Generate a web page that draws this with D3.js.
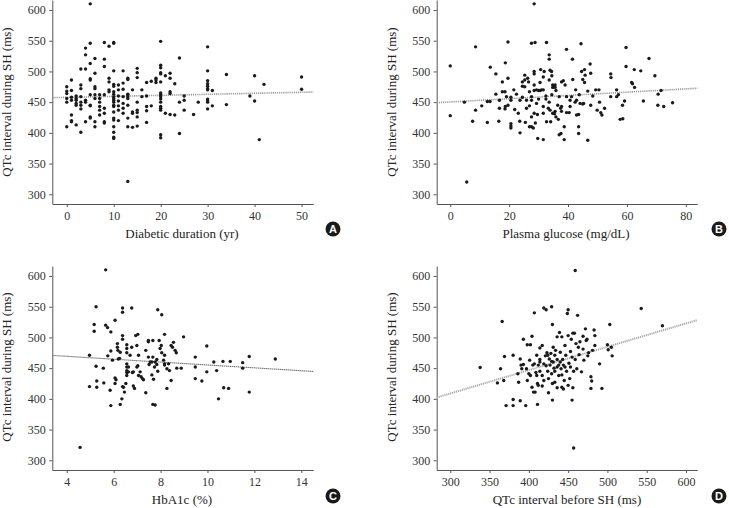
<!DOCTYPE html>
<html><head><meta charset="utf-8">
<script src="https://cdn.jsdelivr.net/npm/d3@7"></script>
<style>
html,body{margin:0;padding:0;background:#fff;}
svg{display:block;}
.tick text{font-family:"Liberation Serif","Times New Roman",serif;font-size:12px;fill:#333;}
.domain,.tick line{stroke:#555;}
.title{font-family:"Liberation Serif","Times New Roman",serif;font-size:13px;fill:#222;}
.badge{font-family:"Liberation Sans",Arial,sans-serif;font-size:11px;font-weight:bold;fill:#fff;}
</style></head><body>
<svg id="c" width="729" height="508"></svg>
<script>
// ---------- data ----------
const yTicks = [300, 350, 400, 450, 500, 550, 600];
const durationTicks = [0, 10, 20, 30, 40, 50];
const glucoseTicks = [0, 20, 40, 60, 80];
const hba1cTicks = [4, 6, 8, 10, 12, 14];
const qtcBeforeTicks = [300, 350, 400, 450, 500, 550, 600];

// Panel A: diabetic duration (yr) -> QTc during SH (ms), grouped by duration
const durationGroups = [
  [0, [475, 468, 464, 456, 450, 410]],
  [1, [486, 469, 458, 453, 429, 420, 418]],
  [2, [460, 456, 453, 448, 445, 413]],
  [3, [504, 478, 472, 459, 450, 445, 439, 401]],
  [4, [538, 527, 504, 453, 450, 418]],
  [5, [610, 546, 513, 488, 486, 462, 445, 444, 426, 424]],
  [6, [521, 497, 475, 472, 462, 456, 418, 410]],
  [7, [462, 456, 450, 443, 437, 429]],
  [8, [547, 520, 508, 462, 440, 432, 418, 416]],
  [9, [541, 489, 483, 470, 467]],
  [10, [547, 546, 501, 479, 476, 467, 463, 459, 456, 453, 450, 445, 443, 434, 424, 421, 410, 401, 393, 391]],
  [11, [478, 470, 460, 452, 444, 437, 420]],
  [12, [501, 481, 471, 459, 448, 440, 432]],
  [13, [489, 487, 463, 462, 459, 456, 445, 424, 410, 321]],
  [14, [470, 434, 432, 409]],
  [15, [505, 498, 490, 450, 437, 433, 426, 411]],
  [16, [470, 459]],
  [17, [482, 460, 443, 436, 417]],
  [18, [484, 444]],
  [19, [486, 489, 482]],
  [20, [549, 510, 506, 498, 496, 483, 465, 462, 459, 455, 450, 443, 440, 437, 397, 392]],
  [21, [493, 432]],
  [22, [497, 489, 467, 464, 430]],
  [23, [480, 429]],
  [24, [522, 450, 399]],
  [25, [460, 453, 437]],
  [27, [430]],
  [28, [450]],
  [30, [540, 501, 485, 480, 476, 472, 470, 455, 452, 450, 439]],
  [31, [469, 444]],
  [34, [495, 446]],
  [39, [460]],
  [40, [493, 452]],
  [41, [389]],
  [42, [479]],
  [50, [491, 471]]
];
const durationFit = [[-3.08, 457.3], [52.5, 466.5]];

// Panel B: plasma glucose (mg/dL) -> QTc during SH (ms)
const glucosePoints = [
  [0,509],[0,428],[4.8,450],[5.6,320],[7.6,419],[8.6,540],[8.6,437],[10.7,444],[12.6,417],[12.6,451],
  [13.5,451],[13.6,507],[15.5,496],[15.5,463],[16.5,419],[16.7,440],[16.7,453],[17.7,483],[17.7,467],[18.6,467],
  [18.6,439],[18.7,514],[18.7,443],[19.1,459],[19.6,548],[19.6,489],[19.6,445],[20.6,458],[20.6,453],[20.6,415],
  [20.6,411],[20.6,408],[21.6,470],[22.5,463],[23.6,419],[23.7,400],[24.5,483],[24.5,476],[24.5,458],[25.3,486],
  [25.3,494],[25.5,417],[25.9,453],[25.9,440],[26.3,489],[26.6,483],[26.9,467],[26.9,444],[27.6,546],[27.6,459],
  [27.6,453],[27.6,426],[27.6,410],[28.2,408],[28.5,610],[28.8,547],[28.5,500],[28.5,496],[28.5,478],[28.5,469],
  [28.5,432],[28.9,416],[29.3,470],[29.6,430],[29.7,391],[30,469],[30,455],[30.5,469],[30.5,482],[30.7,503],
  [31,470],[31.6,491],[31.6,432],[31.6,389],[31.6,470],[31.9,500],[32.5,460],[32.5,455],[32.7,547],[32.7,418],
  [33.3,440],[33.6,527],[33.6,520],[33.6,486],[33.6,450],[33.9,502],[34.1,418],[34.4,500],[34.5,493],[34.5,462],
  [34.8,478],[34.8,474],[34.8,432],[35.2,476],[35.4,431],[35.6,478],[35.6,474],[35.9,469],[35.9,426],[36.5,445],
  [36.7,422],[37,459],[37.5,440],[37.8,443],[37.8,483],[37.8,435],[38.4,485],[38.7,410],[38.7,389],[37,397],
  [37.6,399],[39,478],[39.5,536],[39.5,433],[40.4,433],[40.7,453],[41.2,459],[41.5,520],[41.6,487],[42.4,450],
  [42.6,470],[42.9,429],[43.6,410],[43.6,399],[43.6,430],[43.8,462],[44.1,448],[44.4,545],[44.6,500],[45,487],
  [45,447],[45.3,448],[45.6,482],[45.6,503],[45.8,494],[46.7,388],[46.7,468],[47.5,512],[47.7,497],[47.7,445],
  [48.4,460],[49.4,470],[49.9,437],[50.5,470],[50.7,450],[51.1,433],[51.5,429],[52.4,440],[54.5,496],[54.6,490],
  [54.5,459],[56.5,470],[56.5,459],[57.1,462],[57.7,422],[58.6,423],[58.5,445],[59.2,452],[59.7,539],[59.7,508],
  [62.5,503],[61.6,482],[61.9,480],[62.6,474],[64.7,501],[65.6,452],[67.5,521],[69.5,493],[70.5,445],[70.6,463],
  [71.6,469],[72.5,443],[75.5,449],
  [25.3,475],[29.3,448],[31.6,443],[33.9,437],[35.6,435],[39.5,459],[40.7,443],[42.9,453],[26.9,410],[23.7,453],
  [21.9,438],[23.1,432]
];
const glucoseFit = [[-4.6, 449.1], [83.9, 472.6]];

// Panel C: HbA1c (%) -> QTc during SH (ms)
const hba1cPoints = [
  [5.66,610],[5.25,550],[5.17,521],[5.17,510],[4.97,471],[4.97,420],[5.25,453],[5.28,429],[5.28,419],[5.58,426],
  [5.56,450],[4.57,321],[5.66,520],[5.74,516],[5.88,509],[5.75,470],[5.88,478],[5.85,414],[5.88,389],[6.06,528],
  [5.95,463],[6.06,434],[6.1,431],[6.06,425],[6.16,490],[6.16,484],[6.18,479],[6.2,465],[6.25,466],[6.28,476],
  [6.38,548],[6.38,541],[6.38,503],[6.38,497],[6.38,420],[6.28,391],[6.35,400],[6.42,419],[6.46,411],[6.56,488],
  [6.56,482],[6.56,475],[6.56,457],[6.56,452],[6.56,446],[6.56,443],[6.56,438],[6.52,425],[6.63,452],[6.63,444],
  [6.7,471],[6.77,548],[6.77,484],[6.8,443],[6.84,444],[6.84,421],[6.89,417],[6.94,503],[6.99,487],[7.03,505],
  [7.03,454],[6.99,452],[7.06,471],[7.06,438],[7.13,444],[7.17,436],[7.23,433],[7.27,431],[7.37,479],[7.37,410],
  [7.48,495],[7.48,493],[7.51,456],[7.48,468],[7.67,495],[7.67,468],[7.56,460],[7.63,460],[7.63,439],[7.67,391],
  [7.77,390],[7.7,432],[7.74,452],[7.77,460],[7.84,464],[7.88,545],[7.88,445],[7.84,456],[7.94,495],[7.98,482],
  [8.03,487],[8.05,537],[8.05,475],[8.13,463],[8.17,457],[8.17,505],[8.17,471],[8.17,455],[8.27,417],[8.27,449],
  [8.34,457],[8.38,446],[8.45,487],[8.45,430],[8.51,484],[8.55,492],[8.62,479],[8.67,475],[8.69,450],[8.88,450],
  [8.98,501],[9.48,468],[9.48,452],[9.48,433],[9.76,429],[9.97,486],[9.97,444],[10.27,460],[10.39,446],[10.47,400],
  [10.66,461],[10.69,418],[10.9,417],[10.97,461],[11.5,459],[11.5,450],[11.78,469],[11.78,411],[12.89,465]
];
const hba1cFit = [[3.385, 470.7], [14.51, 444.6]];

// Panel D: QTc before SH (ms) -> QTc during SH (ms)
const qtcBeforePoints = [
  [459,609],[457,320],[338,451],[366,526],[364,449],[369,469],[380,471],[360,426],[368,430],[371,389],
  [380,389],[380,399],[389,397],[396,389],[411,391],[386,441],[387,427],[390,455],[391,449],[393,497],
  [393,456],[398,488],[400,441],[401,463],[402,488],[404,502],[404,419],[406,411],[407,540],[408,411],
  [409,443],[410,471],[410,438],[411,425],[412,422],[414,464],[414,445],[414,483],[417,438],[417,421],
  [417,487],[419,548],[422,545],[419,457],[421,470],[422,454],[423,475],[424,445],[425,433],[425,410],
  [426,465],[427,455],[428,474],[429,550],[429,461],[429,441],[430,398],[430,521],[431,484],[431,460],
  [432,450],[433,427],[433,471],[436,501],[436,464],[438,455],[438,438],[439,508],[440,476],[441,449],
  [442,501],[442,419],[443,464],[444,455],[445,430],[446,487],[447,471],[449,539],[450,545],[450,503],
  [451,458],[452,433],[453,477],[454,497],[455,468],[456,507],[456,418],[455,398],[457,445],[458,507],
  [459,464],[460,490],[461,449],[462,536],[463,484],[464,472],[465,493],[467,444],[469,502],[469,481],
  [470,463],[472,514],[473,495],[474,497],[475,470],[476,475],[479,436],[480,429],[479,417],[481,479],
  [483,512],[484,503],[484,487],[490,457],[493,417],[500,488],[501,480],[503,521],[505,484],[506,470],
  [543,547],[570,519],
  [434,479],[440,460],[446,452],[433,445],[424,471],[419,430],[412,455],[448,445],[453,452],[442,439],
  [436,452],[414,460],[402,438],[397,449],[407,457],[430,425],[436,418],[444,416],[450,422],[398,430],
  [405,455],[389,465]
];
const qtcBeforeFit = [[282.7, 402.2], [614.4, 528.3]];

const yDomain = [284.2, 616.3];

// ---------- drawing ----------
const svg = d3.select("#c");

const panels = [
  {letter:"A", pts: durationGroups.flatMap(([x, ys]) => ys.map(v => [x, v])), fit: durationFit,
   xDomain:[-3.08, 52.5], ticks: durationTicks, left:52.3, right:313.3, top:0, bottom:204,
   xTitle:"Diabetic duration (yr)", xTitleX:182, yTitleX:11, lineStyle:{c:"#999", w:1.6, d:"1.2,0.9"}},
  {letter:"B", pts: glucosePoints, fit: glucoseFit,
   xDomain:[-4.6, 83.9], ticks: glucoseTicks, left:436.7, right:697.3, top:0, bottom:204,
   xTitle:"Plasma glucose (mg/dL)", xTitleX:566, yTitleX:396, lineStyle:{c:"#999", w:1.6, d:"1.2,0.9"}},
  {letter:"C", pts: hba1cPoints, fit: hba1cFit,
   xDomain:[3.385, 14.51], ticks: hba1cTicks, left:52.3, right:313.3, top:266, bottom:470,
   xTitle:"HbA1c (%)", xTitleX:182, yTitleX:11, lineStyle:{c:"#777", w:1.1, d:"1.5,0.5"}},
  {letter:"D", pts: qtcBeforePoints, fit: qtcBeforeFit,
   xDomain:[282.7, 614.4], ticks: qtcBeforeTicks, left:436.7, right:697.3, top:266, bottom:470,
   xTitle:"QTc interval before SH (ms)", xTitleX:567, yTitleX:396, lineStyle:{c:"#aaa", w:2, d:"1.2,0.8"}}
];

const badgePos = {A:[333,229], B:[719,229], C:[333,496], D:[719,496]};

panels.forEach(p => {
  const g = svg.append("g");
  const x = d3.scaleLinear().domain(p.xDomain).range([p.left, p.right]);
  const y = d3.scaleLinear().domain(yDomain).range([p.bottom, p.top]);

  g.append("g").attr("transform", `translate(0,${p.bottom})`)
    .call(d3.axisBottom(x).tickValues(p.ticks).tickSize(3).tickPadding(4.5).tickSizeOuter(0));
  g.append("g").attr("transform", `translate(${p.left},0)`)
    .call(d3.axisLeft(y).tickValues(yTicks).tickSize(3).tickPadding(3.5).tickSizeOuter(0));

  g.append("line")
    .attr("x1", x(p.fit[0][0])).attr("y1", y(p.fit[0][1]))
    .attr("x2", x(p.fit[1][0])).attr("y2", y(p.fit[1][1]))
    .attr("stroke", p.lineStyle.c).attr("stroke-width", p.lineStyle.w)
    .attr("stroke-dasharray", p.lineStyle.d);

  g.append("g").selectAll("circle").data(p.pts).join("circle")
    .attr("cx", d => x(d[0])).attr("cy", d => y(d[1]))
    .attr("r", 1.7).attr("fill", "#1a1a1a");

  g.append("text").attr("class", "title")
    .attr("x", p.xTitleX).attr("y", p.bottom + 34).attr("text-anchor", "middle")
    .text(p.xTitle);
  g.append("text").attr("class", "title")
    .attr("transform", `translate(${p.yTitleX},${(p.top + p.bottom) / 2 + (p.top === 0 ? 0 : -1)}) rotate(-90)`)
    .attr("text-anchor", "middle")
    .text("QTc interval during SH (ms)");

  const [bx, by] = badgePos[p.letter];
  g.append("circle").attr("cx", bx).attr("cy", by).attr("r", 7.5).attr("fill", "#1a1a1a");
  g.append("text").attr("class", "badge").attr("x", bx).attr("y", by + 4)
    .attr("text-anchor", "middle").text(p.letter);
});
</script>
</body></html>
